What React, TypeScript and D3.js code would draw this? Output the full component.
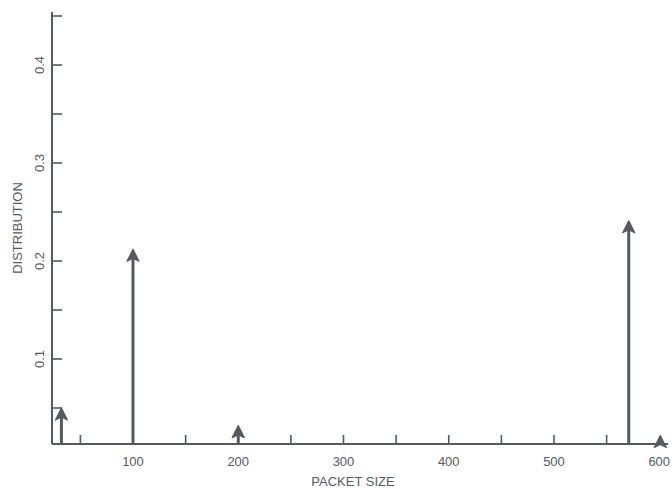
import { useEffect, useRef } from 'react';
import * as d3 from 'd3';

// packet size -> share of packets
const packetSizes = [32, 100, 200, 571, 601];
const shares = [0.05, 0.212, 0.032, 0.241, 0.022];

const xTicks = d3.range(50, 601, 50);
const xLabels = [100, 200, 300, 400, 500, 600];
const yTicks = [0.05, 0.1, 0.15, 0.2, 0.25, 0.3, 0.35, 0.4, 0.45];
const yLabels = [0.1, 0.2, 0.3, 0.4];

const INK = '#555a60';
const FONT = '"Liberation Sans", Arial, sans-serif';

const W = 672;
const H = 489;

const App = () => {
  const svgRef = useRef<SVGSVGElement>(null);

  useEffect(() => {
    if (!svgRef.current) return;
    const svg = d3.select(svgRef.current);
    svg.selectAll('*').remove();

    const x = d3.scaleLinear().domain([100, 500]).range([133, 554]);
    const y = d3.scaleLinear().domain([0.1, 0.2]).range([359, 261]);

    const x0 = 52;
    const yBase = 444;
    const xEnd = 668;
    const yTop = 12;

    const g = svg.append('g');

    // axes lines
    g.append('line')
      .attr('x1', x0).attr('x2', x0)
      .attr('y1', yTop).attr('y2', yBase)
      .attr('stroke', INK).attr('stroke-width', 2);
    g.append('line')
      .attr('x1', x0).attr('x2', xEnd)
      .attr('y1', yBase).attr('y2', yBase)
      .attr('stroke', INK).attr('stroke-width', 2);

    // y ticks, pointing inward
    g.selectAll('.ytick')
      .data(yTicks)
      .enter()
      .append('line')
      .attr('x1', x0).attr('x2', x0 + 10)
      .attr('y1', (d) => y(d)).attr('y2', (d) => y(d))
      .attr('stroke', INK).attr('stroke-width', 1.6);

    g.selectAll('.ylab')
      .data(yLabels)
      .enter()
      .append('text')
      .attr('transform', (d) => `translate(44, ${y(d)}) rotate(-90)`)
      .attr('text-anchor', 'middle')
      .attr('font-family', FONT)
      .attr('font-size', 13)
      .attr('fill', INK)
      .text((d) => d.toFixed(1));

    // x ticks
    g.selectAll('.xtick')
      .data(xTicks.filter((d) => d < 600))
      .enter()
      .append('line')
      .attr('x1', (d) => x(d)).attr('x2', (d) => x(d))
      .attr('y1', yBase).attr('y2', yBase - 9)
      .attr('stroke', INK).attr('stroke-width', 1.6);

    g.selectAll('.xlab')
      .data(xLabels)
      .enter()
      .append('text')
      .attr('x', (d) => x(d))
      .attr('y', 466)
      .attr('text-anchor', 'middle')
      .attr('font-family', FONT)
      .attr('font-size', 13)
      .attr('fill', INK)
      .text((d) => d);

    // axis titles
    g.append('text')
      .attr('x', 353).attr('y', 486)
      .attr('text-anchor', 'middle')
      .attr('font-family', FONT)
      .attr('font-size', 13)
      .attr('fill', INK)
      .text('PACKET SIZE');

    g.append('text')
      .attr('transform', 'translate(22, 228) rotate(-90)')
      .attr('text-anchor', 'middle')
      .attr('font-family', FONT)
      .attr('font-size', 13)
      .attr('fill', INK)
      .text('DISTRIBUTION');

    // arrows (impulses)
    const data = packetSizes.map((s, i) => ({ s, p: shares[i] }));
    const arrows = g.selectAll('.arrow').data(data).enter().append('g');

    arrows
      .append('line')
      .attr('x1', (d) => x(d.s)).attr('x2', (d) => x(d.s))
      .attr('y1', yBase).attr('y2', (d) => y(d.p) + 6)
      .attr('stroke', INK).attr('stroke-width', 3);

    arrows
      .append('path')
      .attr('d', (d) => {
        const cx = x(d.s);
        const ty = y(d.p);
        return `M${cx},${ty} L${cx + 6},${ty + 12} L${cx},${ty + 9} L${cx - 6},${ty + 12} Z`;
      })
      .attr('fill', INK)
      .attr('stroke', INK)
      .attr('stroke-width', 1.2)
      .attr('stroke-linejoin', 'round');
  }, []);

  return (
    <svg
      ref={svgRef}
      width={W}
      height={H}
      style={{ position: 'absolute', left: 0, top: 0, background: '#fff' }}
    />
  );
};

export default App;
